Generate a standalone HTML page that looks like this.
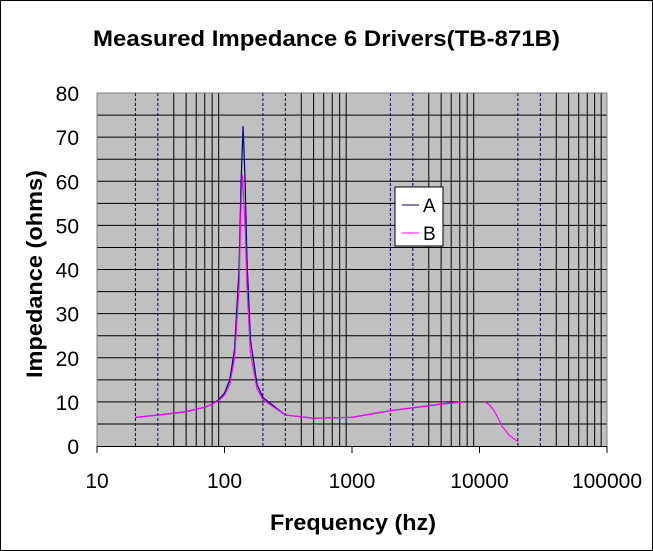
<!DOCTYPE html>
<html><head><meta charset="utf-8"><style>
body{margin:0;background:#fff}
svg{display:block;font-family:"Liberation Sans",Arial,sans-serif}
</style></head><body>
<svg width="653" height="551" viewBox="0 0 653 551">
<rect x="0.5" y="0.5" width="652" height="550" fill="#fff" stroke="#000"/>
<text x="93" y="46" font-size="22" font-weight="bold" textLength="467" lengthAdjust="spacingAndGlyphs">Measured Impedance 6 Drivers(TB-871B)</text>
<rect x="97" y="93" width="510" height="353" fill="#c0c0c0"/>
<g id="grid"></g>
<g id="axes"></g>
<g id="series"></g>
<text transform="translate(42,274) rotate(-90)" text-anchor="middle" font-size="22" font-weight="bold" textLength="208" lengthAdjust="spacingAndGlyphs">Impedance (ohms)</text>
<text x="270" y="530" font-size="22" font-weight="bold" textLength="166" lengthAdjust="spacingAndGlyphs">Frequency (hz)</text>
<g>
<rect x="395" y="187" width="48" height="59" fill="#fff" stroke="#000"/>
<line x1="402" y1="205" x2="419" y2="205" stroke="#000080"/>
<text x="423" y="212" font-size="19">A</text>
<line x1="402" y1="233" x2="419" y2="233" stroke="#ff00ff"/>
<text x="423" y="240" font-size="19">B</text>
</g>
</svg>
<script>
const xTicks=[10,100,1000,10000,100000];
const xTickLabels=["10","100","1000","10000","100000"];
const yTicks=[0,10,20,30,40,50,60,70,80];
const freqA=[20,30,50,70,80,90,100,110,120,130,135,140,145,150,160,180,200,300,500,1000,2000,5000,7500];
const valsA=[6.5,7,7.8,8.8,9.5,10.5,12,15,22,40,60,72.5,60,42,24,14,11,7,6.3,6.5,8,9.5,10];
const freqB=[20,30,50,70,80,90,100,110,120,130,135,138,145,150,160,180,200,300,500,1000,2000,5000,7500];
const valsB=[6.5,7,7.8,8.8,9.5,10.3,11.5,14,20,36,55,61.5,50,36,21,13,10.5,7,6.3,6.5,8,9.5,10];
const freqB2=[11000,12000,13000,14000,15000,17000,20000];
const valsB2=[10,9.3,8,6.3,4.5,2.5,1];
const X0=97,X1=607,Y0=446,Y1=93;
const sx=f=>X0+(Math.log10(f)-1)/4*(X1-X0);
const sy=v=>Y0+(v/80)*(Y1-Y0);
const NS="http://www.w3.org/2000/svg";
function mk(t,a,p){const e=document.createElementNS(NS,t);for(const k in a)e.setAttribute(k,a[k]);p.appendChild(e);return e;}
const grid=document.getElementById('grid'),axes=document.getElementById('axes'),series=document.getElementById('series');
for(let v=5;v<80;v+=5){
const l=mk('line',{x1:X0,x2:X1,y1:sy(v),y2:sy(v),stroke:'#000','stroke-width':1},grid);


}
for(let d=10;d<100000;d*=10){for(let m=2;m<=9;m++){
const x=sx(d*m);
const l=mk('line',{x1:x,x2:x,y1:Y1,y2:Y0,stroke:m==2||m==3?'#000060':'#000','stroke-width':1,'stroke-dasharray':m==2||m==3?'3,2':'none'},grid);


}}
mk('line',{x1:X0,x2:X0,y1:Y1,y2:Y0,stroke:'#808080'},axes);
mk('line',{x1:X0,x2:X1,y1:Y1,y2:Y1,stroke:'#808080'},axes);
mk('line',{x1:X1,x2:X1,y1:Y1,y2:Y0,stroke:'#808080'},axes);
mk('line',{x1:X0,x2:X1,y1:Y0+0.5,y2:Y0+0.5,stroke:'#000'},axes);
xTicks.forEach((f,i)=>{
const x=sx(f);
const t=mk('line',{x1:x,x2:x,y1:Y0,y2:Y0+7,stroke:'#000'},axes);


const tx=mk('text',{x:x,y:488,'text-anchor':'middle','font-size':21},axes);
tx.textContent=xTickLabels[i];


});
yTicks.forEach(v=>{
const tx=mk('text',{x:79,y:sy(v)+8,'text-anchor':'end','font-size':21},axes);
tx.textContent=String(v);


});
function path(fs,vs,c,name){
const d=fs.map((f,i)=>(i?'L':'M')+sx(f).toFixed(1)+','+sy(vs[i]).toFixed(1)).join('');
const p=mk('path',{d:d,fill:'none',stroke:c,'stroke-width':1.2},series);


}
path(freqA,valsA,'#000080','series-a-line');
path(freqB,valsB,'#ff00ff','series-b-line');
path(freqB2,valsB2,'#ff00ff','series-b-line-high');
</script>
</body></html>
